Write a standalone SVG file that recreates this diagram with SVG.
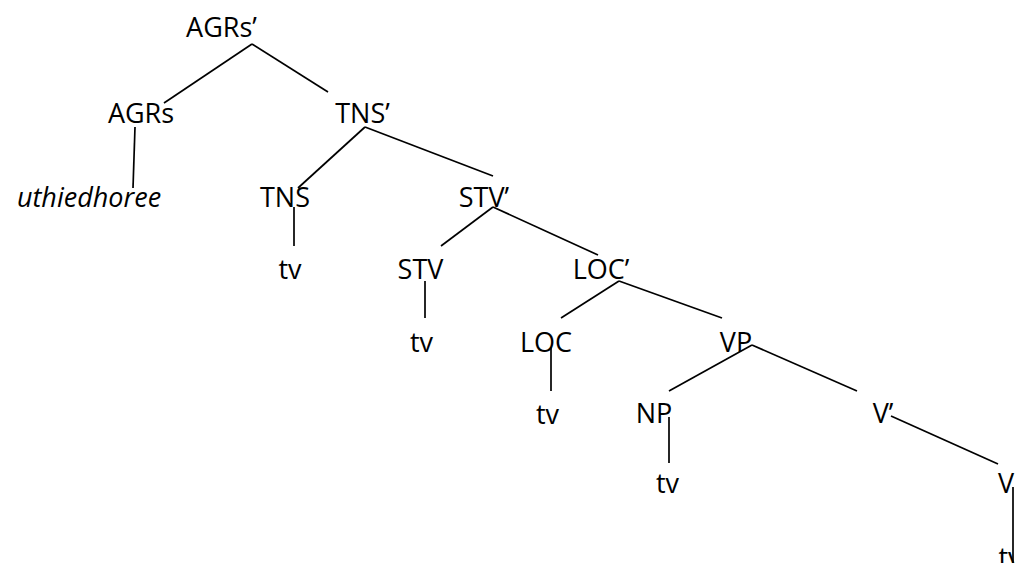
<svg xmlns="http://www.w3.org/2000/svg" width="1015" height="563" viewBox="0 0 1015 563">
<style>
text{font-family:"Open Sans","Noto Sans","Liberation Sans",sans-serif;font-size:27px;fill:#000;text-anchor:middle}
.it{font-style:italic}
#connectors line{stroke:#000;stroke-width:1.7;fill:none}
</style>
<rect width="1015" height="563" fill="#fff"/>
<g id="connectors">
<line x1="252" y1="44" x2="164" y2="103"/>
<line x1="252" y1="44" x2="328" y2="92"/>
<line x1="135" y1="127" x2="133" y2="188"/>
<line x1="365" y1="127" x2="298" y2="188"/>
<line x1="365" y1="127" x2="493" y2="176"/>
<line x1="294" y1="207" x2="294" y2="246"/>
<line x1="493" y1="207" x2="441" y2="246"/>
<line x1="493" y1="207" x2="598" y2="255"/>
<line x1="425" y1="281" x2="425" y2="318"/>
<line x1="619" y1="281" x2="561" y2="318"/>
<line x1="619" y1="281" x2="722" y2="318"/>
<line x1="551" y1="347" x2="551" y2="391"/>
<line x1="752" y1="345" x2="669" y2="391"/>
<line x1="752" y1="345" x2="857" y2="391"/>
<line x1="669" y1="417" x2="669" y2="463"/>
<line x1="891" y1="416" x2="998" y2="464"/>
<line x1="1013" y1="487" x2="1013" y2="563"/>
</g>
<g id="n-agrs-bar"><text x="221.5" y="37">AGRs’</text></g>
<g id="n-agrs"><text x="141" y="123">AGRs</text></g>
<g id="n-tns-bar"><text x="362.5" y="123">TNS’</text></g>
<g id="n-uthiedhoree"><text class="it" x="89" y="207">uthiedhoree</text></g>
<g id="n-tns"><text x="285" y="207">TNS</text></g>
<g id="n-stv-bar"><text x="484" y="207">STV’</text></g>
<g id="n-tv1"><text x="290" y="279">tv</text></g>
<g id="n-stv"><text x="420.5" y="279">STV</text></g>
<g id="n-loc-bar"><text x="601" y="279">LOC’</text></g>
<g id="n-tv2"><text x="421.5" y="352">tv</text></g>
<g id="n-loc"><text x="546" y="352">LOC</text></g>
<g id="n-vp"><text x="736" y="352">VP</text></g>
<g id="n-tv3"><text x="547.5" y="424">tv</text></g>
<g id="n-np"><text x="654" y="423">NP</text></g>
<g id="n-v-bar"><text x="883" y="423">V’</text></g>
<g id="n-tv4"><text x="667.5" y="493">tv</text></g>
<g id="n-v"><text x="1006" y="493">V</text></g>
<g id="n-tv5"><text x="1010" y="567">tv</text></g>
</svg>
